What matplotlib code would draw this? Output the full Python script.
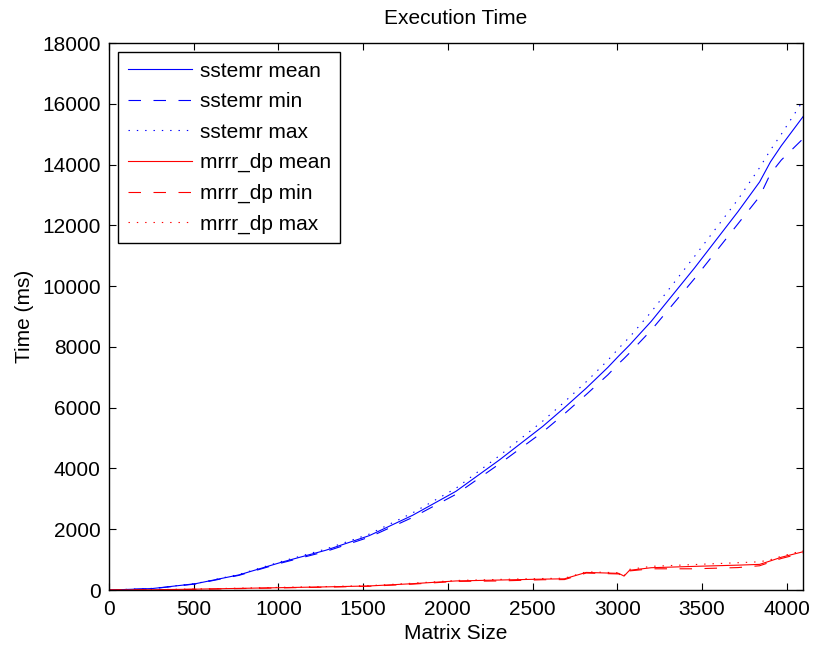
import matplotlib
matplotlib.use('Agg')
import matplotlib.pyplot as plt

plt.rcParams['font.family'] = ['Liberation Sans', 'DejaVu Sans']
plt.rcParams['lines.scale_dashes'] = False

# matrix sizes and timings (ms)
sizes = [0, 256, 512, 768, 1024, 1280, 1536, 1792, 2048, 2304, 2560, 2688, 2816,
         2944, 3008, 3040, 3072, 3200, 3456, 3712, 3840, 3904, 3968, 4096]

sstemr_mean = [0, 50, 210, 500, 925, 1310, 1790, 2460, 3250, 4280, 5385, 6000, 6640,
               7325, 7700, 7880, 8060, 8840, 10600, 12450, 13430, 14090, 14620, 15575]
sstemr_min = [0, 45, 200, 485, 900, 1270, 1740, 2390, 3150, 4150, 5200, 5800, 6430,
              7080, 7450, 7620, 7800, 8550, 10250, 12050, 12950, 13700, 14150, 14850]
sstemr_max = [0, 55, 215, 515, 950, 1350, 1840, 2540, 3350, 4420, 5560, 6190, 6850,
              7560, 7950, 8140, 8320, 9150, 10980, 12850, 13900, 14480, 15000, 16100]

mrrr_mean = [0, 10, 30, 55, 80, 105, 135, 210, 300, 330, 360, 370, 580,
             560, 550, 460, 650, 735, 780, 820, 845, 960, 1080, 1260]
mrrr_min = [0, 8, 25, 48, 72, 95, 125, 195, 285, 300, 340, 345, 560,
            540, 530, 440, 630, 700, 700, 740, 800, 920, 1040, 1220]
mrrr_max = [0, 12, 35, 62, 90, 115, 145, 225, 315, 350, 380, 390, 600,
            580, 570, 480, 680, 780, 840, 900, 930, 1000, 1110, 1300]

dash = (0, (9, 9))
dot = (0, (1, 5))
fs = 15

fig = plt.figure(figsize=(8.13, 6.47), dpi=100)
ax = fig.add_axes([0.134, 0.088, 0.8537, 0.8455])

ax.plot(sizes, sstemr_mean, color='b', lw=0.8, label='sstemr mean')
ax.plot(sizes, sstemr_min, color='b', lw=0.8, linestyle=dash, label='sstemr min')
ax.plot(sizes, sstemr_max, color='b', lw=0.8, linestyle=dot, label='sstemr max')
ax.plot(sizes, mrrr_mean, color='r', lw=0.8, label='mrrr_dp mean')
ax.plot(sizes, mrrr_min, color='r', lw=0.8, linestyle=dash, label='mrrr_dp min')
ax.plot(sizes, mrrr_max, color='r', lw=0.8, linestyle=dot, label='mrrr_dp max')

ax.set_xlim(0, 4096)
ax.set_ylim(0, 18000)
ax.set_xticks(range(0, 4001, 500))
ax.set_yticks(range(0, 18001, 2000))
ax.tick_params(direction='in', top=True, right=True, length=5, labelsize=fs)
ax.tick_params(axis='y', pad=6)
ax.tick_params(axis='x', pad=7)
for s in ax.spines.values():
    s.set_linewidth(1.0)

ax.set_title('Execution Time', fontsize=fs, pad=14)
ax.set_xlabel('Matrix Size', fontsize=fs, labelpad=4)
ax.set_ylabel('Time (ms)', fontsize=fs, labelpad=6)

leg = ax.legend(loc='upper left', fontsize=fs, handlelength=3.1, handletextpad=0.35,
                borderpad=0.45, labelspacing=0.55, fancybox=False, framealpha=1,
                edgecolor='black', borderaxespad=0.45)
leg.get_frame().set_linewidth(1.0)

fig.savefig('out.png', dpi=100)
